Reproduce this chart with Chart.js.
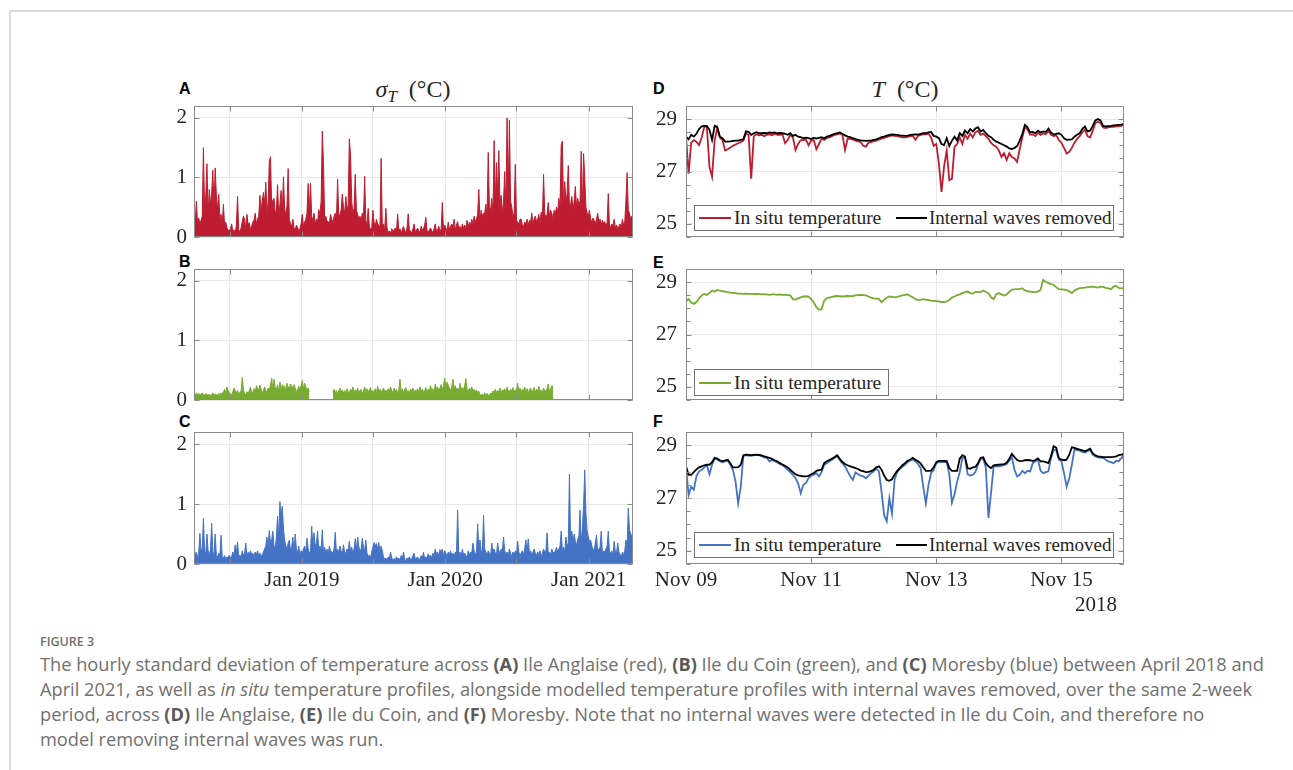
<!DOCTYPE html>
<html><head><meta charset="utf-8">
<script src="https://cdn.jsdelivr.net/npm/chart.js@4.4.1/dist/chart.umd.min.js"></script>
<style>
html,body{margin:0;padding:0;background:#fff;width:1293px;height:770px;overflow:hidden;position:relative;}
#frame{position:absolute;left:9px;top:10px;width:1400px;height:900px;border-left:2px solid #dcdcdc;border-top:2px solid #dcdcdc;}
.panel{position:absolute;}
.lab{position:absolute;font:bold 16px 'Liberation Sans',Arial,sans-serif;line-height:16px;color:#000;}
.ttl{position:absolute;width:200px;text-align:center;font:24px 'Liberation Serif',serif;line-height:24px;color:#262626;white-space:nowrap;}
.leg{position:absolute;background:#fff;border:1px solid #707070;box-sizing:border-box;}
.ls{position:absolute;top:50%;height:2px;margin-top:-1px;}
.lt{position:absolute;top:0;font:19.5px 'Liberation Serif',serif;color:#262626;white-space:nowrap;}
.yr{position:absolute;width:100px;text-align:right;font:21px 'Liberation Serif',serif;line-height:21px;color:#262626;}
.capfig{position:absolute;left:40px;top:634px;font:600 12.5px 'Open Sans',sans-serif;line-height:15px;color:#707070;}
.cap{position:absolute;left:40px;top:652px;font:16px 'Open Sans',sans-serif;line-height:25px;color:#707070;}
.cap div{white-space:nowrap;}
.cap b{font-weight:700;color:#5a5a5a;}
</style>
</head><body>
<div id="frame"></div>

<div class="lab" style="left:179px;top:81px">A</div>
<div class="lab" style="left:179px;top:254px">B</div>
<div class="lab" style="left:179px;top:414px">C</div>
<div class="lab" style="left:653px;top:81px">D</div>
<div class="lab" style="left:653px;top:255px">E</div>
<div class="lab" style="left:653px;top:414px">F</div>

<div class="ttl" style="left:313px;top:77px"><i>σ</i><i style="font-size:17px;position:relative;top:5px">T</i>&nbsp;&nbsp;(°C)</div>
<div class="ttl" style="left:805px;top:77px"><i>T</i>&nbsp;&nbsp;(°C)</div>

<div class="panel" style="left:140px;top:96px;width:500px;height:150px"><canvas id="cA"></canvas></div>
<div class="panel" style="left:140px;top:259px;width:500px;height:150px"><canvas id="cB"></canvas></div>
<div class="panel" style="left:140px;top:422px;width:500px;height:180px"><canvas id="cC"></canvas></div>
<div class="panel" style="left:630px;top:96px;width:500px;height:150px"><canvas id="cD"></canvas></div>
<div class="panel" style="left:630px;top:259px;width:500px;height:150px"><canvas id="cE"></canvas></div>
<div class="panel" style="left:630px;top:422px;width:500px;height:180px"><canvas id="cF"></canvas></div>

<div class="yr" id="yearLabel" style="left:1017px;top:594px"></div>

<div class="capfig">FIGURE 3</div>
<div class="cap" id="cap">
<div id="capl1">The hourly standard deviation of temperature across <b>(A)</b> Ile Anglaise (red), <b>(B)</b> Ile du Coin (green), and <b>(C)</b> Moresby (blue) between April 2018 and</div>
<div>April 2021, as well as <i>in situ</i> temperature profiles, alongside modelled temperature profiles with internal waves removed, over the same 2-week</div>
<div>period, across <b>(D)</b> Ile Anglaise, <b>(E)</b> Ile du Coin, and <b>(F)</b> Moresby. Note that no internal waves were detected in Ile du Coin, and therefore no</div>
<div>model removing internal waves was run.</div>
</div>

<script>
// ---------------- DATA ----------------
// Left column: hourly std of temperature, sampled every 3 days from 1 Apr 2018 (values in 0.01 °C)
const leftStartDate = '2018-04-01';
const leftEndDate = '2021-04-24';
const leftStepDays = 3;
const leftTickDates = ['2018-07-01','2019-01-01','2019-07-01','2020-01-01','2020-07-01','2021-01-01'];
const leftTickLabels = ['', 'Jan 2019', '', 'Jan 2020', '', 'Jan 2021'];
const sigmaTicks = [0, 1, 2];

const sigmaAnglaise = [
30,18,60,25,32,22,28,35,150,45,
70,123,40,80,55,72,112,50,116,70,
45,72,30,38,22,55,18,25,15,12,
10,14,22,8,12,6,20,68,12,9,
15,26,35,30,14,38,20,24,12,18,
25,28,40,22,30,35,70,45,60,75,
55,92,40,60,127,135,50,62,65,40,
45,88,35,55,78,40,101,48,36,52,
115,30,22,18,30,15,12,20,16,10,
14,22,38,18,25,30,40,90,45,90,
35,28,40,22,30,25,46,38,60,178,
125,30,35,26,26,22,38,30,24,35,
40,28,97,34,38,45,72,50,40,68,
42,55,165,137,60,40,48,105,45,38,
30,35,28,40,32,102,28,20,48,18,
12,15,45,25,18,30,22,20,14,132,
18,22,12,48,15,8,10,6,14,9,
12,15,8,39,10,14,7,12,18,10,
8,15,39,12,10,6,14,22,9,12,
15,10,8,18,12,14,20,33,10,8,
12,15,10,8,14,22,10,12,18,9,
14,58,12,20,15,10,25,12,18,22,
16,30,12,20,26,14,18,10,22,15,
20,14,28,18,25,20,30,22,35,26,
30,38,80,28,45,35,40,40,55,38,
142,50,45,65,40,162,60,125,70,145,
55,70,40,60,110,45,200,75,196,60,
50,35,40,122,28,25,22,30,30,20,
18,25,22,30,20,28,25,40,22,30,
35,26,30,38,22,42,30,105,40,32,
38,58,35,45,40,30,45,38,50,42,
65,50,155,161,45,93,60,72,120,50,
55,68,45,60,85,50,65,55,60,144,
45,140,100,50,40,35,45,30,25,32,
28,22,30,40,25,30,20,28,22,26,
18,24,73,20,16,22,18,30,15,20,
14,18,22,15,30,20,25,62,108,45,
40,30,35,28];

const sigmaCoin = [
10,8,12,9,11,8,10,12,9,8,
11,9,8,10,7,9,12,8,10,9,
8,11,9,12,10,14,18,12,22,16,
12,10,9,14,20,16,12,16,10,13,
15,38,18,10,9,14,11,16,22,12,
14,19,13,24,20,15,25,18,12,16,
22,16,14,20,18,24,37,16,35,20,
18,25,14,30,17,26,20,24,15,28,
22,19,27,24,18,26,20,14,17,23,
19,24,33,20,28,22,17,20,14,null,
null,null,null,null,null,null,null,null,null,null,
null,null,null,null,null,null,null,null,14,18,
12,16,10,15,20,13,17,12,16,11,
19,14,12,18,15,22,13,17,14,20,
12,16,18,11,15,22,14,19,13,17,
21,12,16,14,19,12,23,15,18,13,
16,20,14,17,12,19,15,22,16,12,
20,14,18,13,16,35,14,19,12,17,
21,14,16,12,18,15,20,13,17,14,
19,12,22,15,18,14,16,21,13,18,
15,24,16,19,14,27,18,22,16,20,
26,18,24,37,22,30,25,20,16,22,
35,19,24,17,20,15,28,18,21,16,
24,36,18,14,20,16,22,15,18,13,
17,12,15,9,8,10,7,12,8,11,
9,7,12,10,15,13,18,12,16,14,
20,12,17,15,19,13,22,16,14,18,
15,21,13,17,16,28,15,20,13,18,
16,22,14,19,12,17,20,14,16,21,
13,18,15,23,14,17,12,20,16,15,
19,27,14,18,24,23];

const sigmaMoresby = [
12,15,20,10,18,51,22,25,76,20,
18,50,22,15,24,68,20,16,50,14,
12,18,15,48,12,10,14,8,12,10,
15,10,12,20,14,32,18,37,12,15,
10,22,14,18,35,12,20,15,22,16,
18,12,20,15,22,14,18,12,16,20,
25,30,45,28,56,35,40,55,30,25,
45,80,40,104,80,96,60,40,30,25,
35,40,22,28,45,20,50,25,18,30,
15,22,18,25,30,20,43,25,18,22,
63,30,52,28,35,55,22,30,25,57,
20,28,18,25,15,30,22,20,18,25,
53,20,25,18,30,22,15,32,20,18,
25,22,38,20,28,18,25,42,22,45,
30,20,25,43,28,22,40,18,12,15,
10,20,28,36,30,34,25,36,20,30,
22,12,8,10,6,12,8,20,10,7,
9,6,12,8,10,7,14,9,20,8,
6,10,8,12,7,9,14,18,8,10,
12,7,9,14,10,20,8,12,10,17,
12,15,10,18,14,25,16,20,12,24,
18,25,14,22,18,12,20,15,22,14,
18,12,20,16,90,14,20,12,25,16,
18,14,12,22,15,20,18,35,22,16,
20,67,25,40,22,18,81,25,20,15,
22,18,14,35,20,25,18,15,35,22,
18,25,20,45,22,16,20,14,25,18,
12,20,15,22,16,38,20,14,18,22,
16,25,40,20,42,18,22,15,20,25,
18,14,20,16,22,12,18,25,20,22,
52,18,20,15,25,20,18,22,28,20,
25,30,55,22,28,20,45,30,35,150,
40,55,35,50,38,30,42,45,90,35,
60,98,157,85,55,45,38,40,30,25,
22,35,48,20,25,28,55,18,22,20,
25,30,55,20,18,22,15,38,20,18,
35,20,16,12,20,15,22,40,28,93,
58,50,45,60];

// Right column: hourly temperature, 9 Nov 2018 00:00 to 16 Nov 2018 00:00 (°C)
const rightStepHours = 1;
const rightSpanHours = 168;
const rightTickHours = [0, 48, 96, 144];
const rightTickLabels = ['Nov 09', 'Nov 11', 'Nov 13', 'Nov 15'];
const rightYearLabel = '2018';
const tempTicks = [25, 27, 29];
const seriesLabels = ['In situ temperature', 'Internal waves removed'];

const anglaiseInSitu = [
28.33,26.92,28.10,28.20,28.14,28.01,28.30,28.70,28.70,27.18,
26.80,28.20,28.65,28.30,28.20,27.80,27.85,27.92,27.98,28.03,
28.08,28.12,28.18,28.45,28.40,26.73,28.35,28.42,28.38,28.40,
28.35,28.40,28.42,28.38,28.44,28.40,28.40,28.42,28.08,28.20,
28.40,28.30,27.82,28.05,28.20,28.20,28.22,28.00,28.18,28.20,
27.85,28.05,28.25,28.20,28.28,28.30,28.35,28.40,28.42,28.45,
28.40,27.82,28.25,28.25,28.22,28.18,28.15,28.12,27.98,27.95,
28.10,28.12,28.16,28.18,28.22,28.25,28.28,28.32,28.35,28.38,
28.36,28.35,28.33,28.30,28.30,28.32,28.35,28.36,28.21,28.36,
28.40,28.42,28.42,28.45,28.30,27.98,28.05,27.30,26.22,27.20,
27.80,26.67,26.72,27.95,28.05,28.30,28.05,28.40,28.25,28.45,
28.30,28.50,28.55,28.40,28.45,28.35,28.25,28.10,28.00,27.95,
27.80,27.56,27.70,27.44,27.70,27.55,27.50,27.37,27.85,28.30,
28.70,28.60,28.40,28.42,28.35,28.48,28.40,28.45,28.42,28.55,
28.40,28.35,28.38,28.20,28.10,27.90,27.69,27.75,27.90,28.10,
28.25,28.35,28.50,28.60,28.35,28.30,28.55,28.85,28.90,28.85,
28.68,28.66,28.68,28.70,28.70,28.72,28.73,28.74,28.78];

const anglaiseNoWaves = [
28.33,28.23,28.40,28.33,28.44,28.62,28.72,28.74,28.74,28.59,
28.21,28.74,28.69,28.33,28.27,28.14,28.14,28.15,28.17,28.18,
28.18,28.21,28.23,28.53,28.51,28.40,28.46,28.50,28.46,28.46,
28.47,28.46,28.49,28.47,28.49,28.46,28.47,28.46,28.44,28.40,
28.46,28.36,28.40,28.33,28.31,28.27,28.29,28.27,28.24,28.29,
28.26,28.28,28.31,28.27,28.33,28.36,28.40,28.44,28.46,28.49,
28.44,28.38,28.33,28.31,28.27,28.24,28.21,28.19,28.18,28.17,
28.18,28.18,28.21,28.23,28.27,28.31,28.33,28.37,28.40,28.42,
28.41,28.40,28.38,28.37,28.36,28.37,28.40,28.41,28.42,28.41,
28.44,28.46,28.46,28.49,28.51,28.36,28.33,28.27,28.05,28.01,
28.27,27.97,28.18,28.33,28.18,28.46,28.36,28.56,28.46,28.62,
28.53,28.64,28.69,28.53,28.59,28.46,28.36,28.31,28.21,28.14,
28.10,28.05,28.00,27.95,27.88,27.86,27.90,27.97,28.18,28.44,
28.78,28.69,28.49,28.51,28.46,28.56,28.49,28.53,28.51,28.64,
28.49,28.41,28.44,28.46,28.40,28.27,28.21,28.22,28.23,28.33,
28.40,28.46,28.62,28.72,28.53,28.56,28.74,28.95,29.00,28.95,
28.74,28.72,28.73,28.74,28.76,28.77,28.78,28.79,28.82];

const coinInSitu = [
28.26,28.35,28.22,28.17,28.24,28.38,28.49,28.55,28.51,28.58,
28.68,28.63,28.71,28.67,28.65,28.64,28.62,28.60,28.59,28.58,
28.56,28.56,28.55,28.56,28.55,28.55,28.54,28.55,28.54,28.53,
28.54,28.53,28.51,28.53,28.53,28.51,28.53,28.51,28.51,28.50,
28.49,28.35,28.33,28.38,28.42,28.45,28.46,28.45,28.35,28.22,
28.04,27.94,27.96,28.29,28.38,28.41,28.44,28.46,28.47,28.46,
28.45,28.46,28.47,28.46,28.47,28.49,28.50,28.51,28.50,28.49,
28.45,28.41,28.38,28.37,28.36,28.23,28.32,28.40,28.45,28.44,
28.42,28.44,28.46,28.49,28.51,28.53,28.47,28.42,28.35,28.31,
28.32,28.35,28.33,28.31,28.29,28.28,28.27,28.26,28.24,28.24,
28.26,28.32,28.41,28.45,28.50,28.53,28.58,28.62,28.64,28.58,
28.56,28.63,28.63,28.62,28.68,28.62,28.58,28.42,28.35,28.54,
28.58,28.53,28.49,28.53,28.63,28.71,28.72,28.73,28.74,28.76,
28.68,28.65,28.64,28.63,28.62,28.64,28.71,29.09,29.01,28.96,
28.92,28.90,28.81,28.73,28.72,28.71,28.69,28.65,28.58,28.68,
28.73,28.77,28.78,28.79,28.81,28.82,28.83,28.81,28.79,28.83,
28.82,28.78,28.76,28.73,28.83,28.86,28.78,28.76,28.77];

const moresbyInSitu = [
28.20,27.11,27.43,27.31,27.82,28.01,28.07,28.16,28.24,27.90,
28.26,28.49,28.46,28.39,28.35,28.39,28.41,28.26,28.07,27.62,
26.80,27.43,28.58,28.62,28.61,28.61,28.62,28.63,28.62,28.58,
28.54,28.52,28.39,28.44,28.39,28.35,28.29,28.24,28.16,28.07,
27.98,27.88,27.75,27.56,27.18,27.50,27.56,27.75,27.85,27.88,
27.94,27.82,27.98,28.26,28.32,28.39,28.45,28.52,28.58,28.44,
28.31,28.20,28.01,27.82,27.69,27.97,27.90,27.85,27.82,27.75,
27.85,27.94,28.01,28.11,28.01,27.24,26.35,26.12,26.99,26.41,
27.69,27.98,28.10,28.18,28.26,28.36,28.41,28.45,28.39,28.29,
28.13,27.43,26.80,27.50,27.94,28.07,28.32,28.36,28.36,28.37,
28.35,27.88,26.83,27.14,27.62,27.98,28.52,28.52,27.90,27.85,
27.88,27.98,28.26,28.48,28.49,28.16,26.25,27.20,28.20,28.20,
28.20,28.22,28.24,28.29,28.41,28.54,28.07,27.82,27.88,28.03,
27.94,28.03,28.01,28.32,28.39,28.45,28.03,27.94,27.98,28.01,
28.52,28.83,28.80,28.45,28.39,27.94,27.43,27.75,28.26,28.83,
28.81,28.80,28.75,28.72,28.77,28.83,28.64,28.57,28.54,28.52,
28.52,28.45,28.39,28.36,28.32,28.41,28.39,28.52,28.64];

const moresbyNoWaves = [
28.20,27.88,27.88,27.98,28.08,28.16,28.20,28.24,28.26,28.26,
28.36,28.52,28.49,28.43,28.39,28.43,28.45,28.32,28.16,28.16,
28.17,28.26,28.62,28.64,28.63,28.62,28.63,28.64,28.63,28.61,
28.58,28.55,28.52,28.48,28.43,28.39,28.32,28.27,28.22,28.16,
28.07,27.98,27.90,27.86,27.84,27.82,27.82,27.84,27.90,27.94,
28.03,28.06,28.07,28.32,28.39,28.44,28.49,28.55,28.62,28.48,
28.36,28.29,28.24,28.20,28.17,28.13,28.10,28.04,28.02,27.98,
27.99,28.02,28.07,28.16,28.20,28.07,27.85,27.68,27.65,27.71,
27.88,28.03,28.13,28.24,28.32,28.41,28.46,28.52,28.45,28.39,
28.31,28.16,28.03,28.03,28.04,28.16,28.36,28.41,28.41,28.41,
28.40,28.13,28.03,28.03,28.03,28.49,28.62,28.57,28.13,28.11,
28.16,28.18,28.32,28.52,28.54,28.32,28.20,28.13,28.24,28.25,
28.26,28.27,28.28,28.34,28.49,28.67,28.55,28.44,28.40,28.41,
28.43,28.44,28.43,28.40,28.44,28.50,28.39,28.39,28.36,28.32,
28.58,28.96,28.90,28.52,28.45,28.43,28.45,28.64,28.92,28.90,
28.86,28.83,28.80,28.77,28.82,28.87,28.69,28.62,28.58,28.57,
28.55,28.55,28.55,28.55,28.56,28.58,28.62,28.64,28.67];

// ---------------- STYLE ----------------
const RED = 'rgb(190,28,48)', GREEN = 'rgb(119,172,48)', BLUE = 'rgb(68,114,196)', BLACK = '#000000';
const GRID = '#e8e8e8', TXT = '#262626', FRAME = '#8a8a8a';
const TICK_FONT = {family: "'Liberation Serif','Times New Roman',serif", size: 21};

Chart.register({
  id: 'frameTicks',
  afterDraw(chart, args, opts) {
    const {ctx, chartArea: a} = chart;
    const L = Math.round(a.left) + 0.5, R = Math.round(a.right) - 0.5;
    const T = Math.round(a.top) + 0.5, B = Math.round(a.bottom) - 0.5;
    const ys = chart.scales.y, xs = chart.scales.x;
    ctx.save();
    ctx.strokeStyle = FRAME; ctx.lineWidth = 1;
    ctx.beginPath();
    if (opts.minorStep) {
      for (let v = ys.min; v <= ys.max + 1e-9; v += opts.minorStep) {
        const p = Math.round(ys.getPixelForValue(v)) + 0.5;
        ctx.moveTo(L, p); ctx.lineTo(L + 4, p); ctx.moveTo(R, p); ctx.lineTo(R - 4, p);
      }
    }
    ys.ticks.forEach(t => {
      const p = Math.round(ys.getPixelForValue(t.value)) + 0.5;
      ctx.moveTo(L, p); ctx.lineTo(L + 5, p); ctx.moveTo(R, p); ctx.lineTo(R - 5, p);
    });
    xs.ticks.forEach(t => {
      const p = Math.round(xs.getPixelForValue(t.value)) + 0.5;
      ctx.moveTo(p, B); ctx.lineTo(p, B - 5); ctx.moveTo(p, T); ctx.lineTo(p, T + 5);
    });
    ctx.stroke();
    ctx.strokeRect(L, T, R - L, B - T);
    ctx.restore();
  }
});

const dayOf = s => (Date.parse(s) - Date.parse(leftStartDate)) / 864e5;
const leftTickDays = leftTickDates.map(dayOf);
const leftMaxDay = dayOf(leftEndDate);

function zeroPad(s) { s.paddingTop = 0; s.paddingBottom = 0; s.paddingLeft = 0; s.paddingRight = 0; }

function baseOptions(o) {
  return {
    responsive: true, maintainAspectRatio: false, animation: false, events: [],
    layout: {padding: {left: 0, right: o.padRight, top: 10, bottom: 0}},
    plugins: {legend: {display: false}, tooltip: {enabled: false}, frameTicks: {minorStep: o.minorStep || 0}},
    scales: {
      x: {
        type: 'linear', min: o.xMin, max: o.xMax,
        afterBuildTicks: s => { s.ticks = o.xTicks.map(v => ({value: v})); },
        afterFit: s => { s.height = o.xHeight; zeroPad(s); },
        grid: {color: GRID, drawTicks: false, lineWidth: 1},
        border: {display: false},
        ticks: {display: o.showX, padding: 4, font: TICK_FONT, color: TXT, autoSkip: false,
                maxRotation: 0, minRotation: 0, callback: (v, i) => o.xLabels[i]}
      },
      y: {
        min: o.yMin, max: o.yMax,
        afterBuildTicks: s => { s.ticks = o.yTicks.map(v => ({value: v})); },
        afterFit: s => { s.width = o.yWidth; zeroPad(s); },
        grid: {color: GRID, drawTicks: false, lineWidth: 1},
        border: {display: false},
        ticks: {padding: o.yPad, font: TICK_FONT, color: TXT, callback: v => String(v)}
      }
    }
  };
}

function leftChart(id, values, color, showX) {
  const data = values.map((v, i) => ({x: i * leftStepDays, y: v === null ? null : v / 100}));
  return new Chart(document.getElementById(id), {
    type: 'line',
    data: {datasets: [{data, borderColor: color, backgroundColor: color, borderWidth: 1,
                       pointRadius: 0, fill: 'origin', spanGaps: false, tension: 0}]},
    options: baseOptions({padRight: 7, xMin: 0, xMax: leftMaxDay, xTicks: leftTickDays, xLabels: leftTickLabels,
      showX, xHeight: showX ? 38 : 9, yMin: 0, yMax: 2.2, yTicks: sigmaTicks, yWidth: 54, yPad: 7})
  });
}

function rightChart(id, series, showX) {
  const datasets = series.map(s => ({
    label: s.label,
    data: s.values.map((v, i) => ({x: i * rightStepHours, y: v})),
    borderColor: s.color, backgroundColor: s.color, borderWidth: 1.8, pointRadius: 0, fill: false, tension: 0
  }));
  return new Chart(document.getElementById(id), {
    type: 'line', data: {datasets},
    options: baseOptions({padRight: 6, xMin: 0, xMax: rightSpanHours, xTicks: rightTickHours, xLabels: rightTickLabels,
      showX, xHeight: showX ? 38 : 9, yMin: 24.5, yMax: 29.5, yTicks: tempTicks, yWidth: 56, yPad: 9, minorStep: 0.5})
  });
}

leftChart('cA', sigmaAnglaise, RED, false);
leftChart('cB', sigmaCoin, GREEN, false);
leftChart('cC', sigmaMoresby, BLUE, true);

// first dataset is drawn on top
rightChart('cD', [
  {label: seriesLabels[1], values: anglaiseNoWaves, color: BLACK},
  {label: seriesLabels[0], values: anglaiseInSitu, color: RED}], false);
rightChart('cE', [
  {label: seriesLabels[0], values: coinInSitu, color: GREEN}], false);
rightChart('cF', [
  {label: seriesLabels[1], values: moresbyNoWaves, color: BLACK},
  {label: seriesLabels[0], values: moresbyInSitu, color: BLUE}], true);

document.getElementById('yearLabel').textContent = rightYearLabel;

function htmlLegend(box, entries) {
  const d = document.createElement('div'); d.className = 'leg';
  Object.assign(d.style, {left: box[0] + 'px', top: box[1] + 'px', width: box[2] + 'px', height: box[3] + 'px'});
  entries.forEach(e => {
    const s = document.createElement('span'); s.className = 'ls';
    s.style.left = e.sx + 'px'; s.style.width = e.sw + 'px'; s.style.background = e.color;
    const t = document.createElement('span'); t.className = 'lt';
    t.style.left = e.tx + 'px'; t.style.lineHeight = (box[3] - 2) + 'px'; t.textContent = e.label;
    if (e.fs) t.style.fontSize = e.fs + 'px';
    d.append(s, t);
  });
  document.body.appendChild(d);
}
htmlLegend([694, 205, 420, 26], [
  {label: seriesLabels[0], color: RED, sx: 4, sw: 32, tx: 39},
  {label: seriesLabels[1], color: BLACK, sx: 201, sw: 31, tx: 234, fs: 19}]);
htmlLegend([694, 369, 195, 27], [
  {label: seriesLabels[0], color: GREEN, sx: 4, sw: 32, tx: 39}]);
htmlLegend([694, 532, 420, 26], [
  {label: seriesLabels[0], color: BLUE, sx: 4, sw: 32, tx: 39},
  {label: seriesLabels[1], color: BLACK, sx: 201, sw: 31, tx: 234, fs: 19}]);

// fit caption font size so the first line spans the same width as the reference
function fitCaption() {
  const l1 = document.getElementById('capl1');
  const r = document.createRange(); r.selectNodeContents(l1);
  const w = r.getBoundingClientRect().width;
  const target = 1223;
  const cap = document.getElementById('cap');
  const fs = parseFloat(getComputedStyle(cap).fontSize);
  cap.style.fontSize = (fs * target / w).toFixed(2) + 'px';
}
fitCaption();
if (document.fonts && document.fonts.ready) document.fonts.ready.then(fitCaption);
</script>
</body></html>
